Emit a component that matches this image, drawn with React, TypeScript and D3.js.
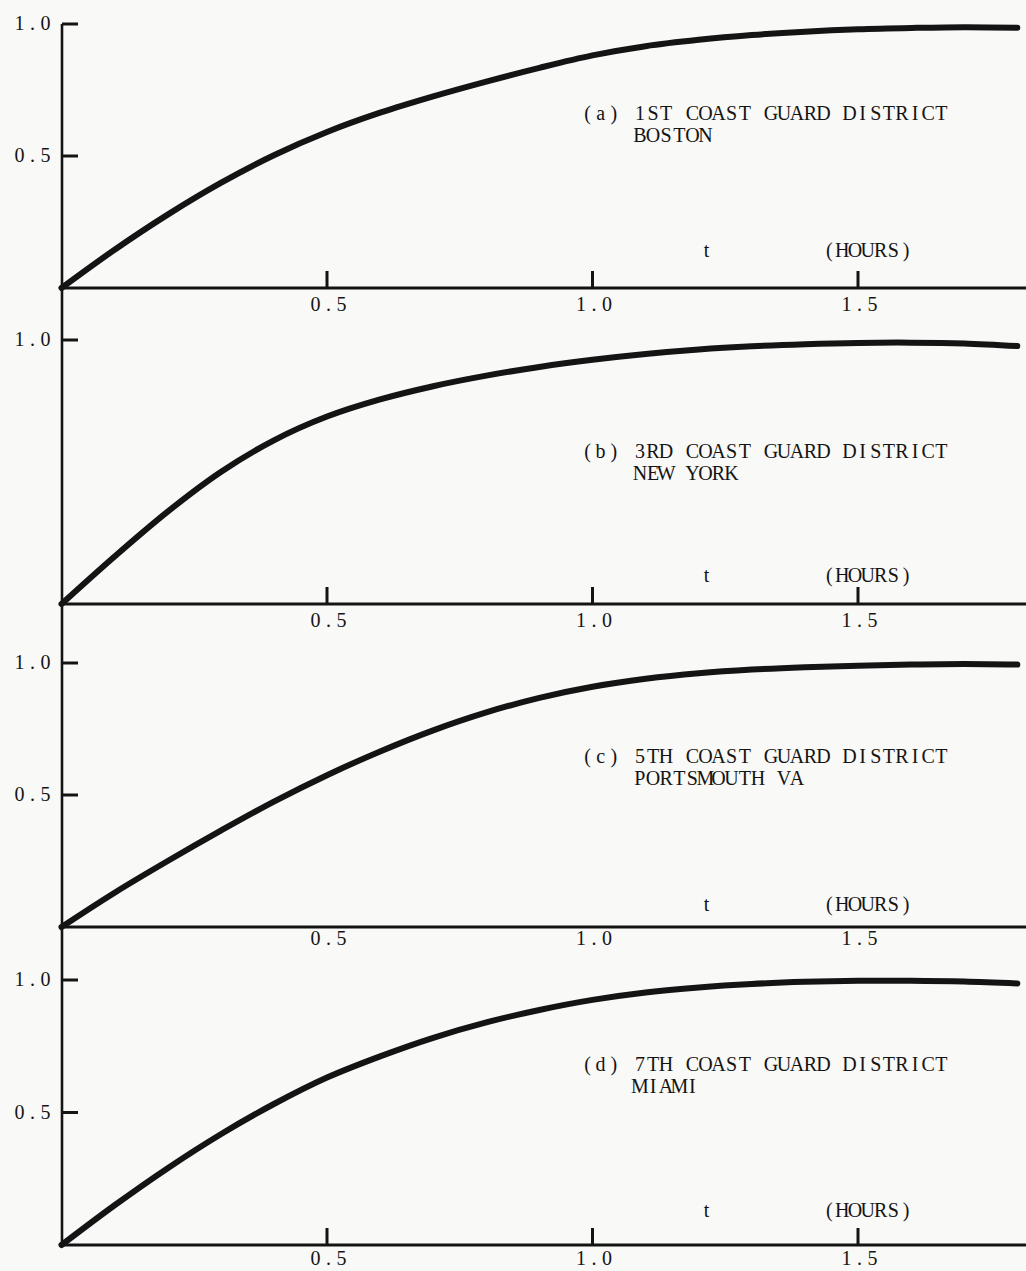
import React from "react";
import * as d3 from "d3";

// Time axis (hours) shared by every district curve
const hours = [0, 0.1, 0.2, 0.3, 0.4, 0.5, 0.6, 0.7, 0.8, 0.9, 1.0, 1.1, 1.2, 1.3, 1.4, 1.5, 1.6, 1.7, 1.8];

// Cumulative response fraction for each Coast Guard district
const bostonValues = [0, 0.145, 0.278, 0.398, 0.503, 0.591, 0.664, 0.726, 0.782, 0.834, 0.881, 0.916, 0.94, 0.958, 0.971, 0.98, 0.985, 0.988, 0.986];
const newYorkValues = [0, 0.18, 0.35, 0.5, 0.62, 0.71, 0.775, 0.825, 0.865, 0.898, 0.925, 0.947, 0.964, 0.976, 0.984, 0.989, 0.99, 0.987, 0.977];
const portsmouthValues = [0, 0.13, 0.25, 0.365, 0.475, 0.575, 0.665, 0.745, 0.813, 0.868, 0.91, 0.94, 0.961, 0.975, 0.984, 0.99, 0.994, 0.996, 0.994];
const miamiValues = [0, 0.15, 0.29, 0.418, 0.532, 0.632, 0.712, 0.782, 0.84, 0.887, 0.925, 0.953, 0.972, 0.985, 0.993, 0.997, 0.997, 0.994, 0.987];

const panelTitles = [
  ["(a) 1ST COAST GUARD DISTRICT", "BOSTON"],
  ["(b) 3RD COAST GUARD DISTRICT", "NEW YORK"],
  ["(c) 5TH COAST GUARD DISTRICT", "PORTSMOUTH VA"],
  ["(d) 7TH COAST GUARD DISTRICT", "MIAMI"],
];

const xTickValues = [0.5, 1.0, 1.5];
const xTickLabels = ["0.5", "1.0", "1.5"];
const yTickSets = [[0.5, 1.0], [1.0], [0.5, 1.0], [0.5, 1.0]];
const seriesList = [bostonValues, newYorkValues, portsmouthValues, miamiValues];

// Panel layout (pixel placement of each stacked panel)
const layout = [
  { top: 24, bottom: 288, tickMarks: true, titleY: 120, unitY: 257, xLabelDy: 23 },
  { top: 340, bottom: 604, tickMarks: true, titleY: 458, unitY: 582, xLabelDy: 23 },
  { top: 663, bottom: 927, tickMarks: false, titleY: 763, unitY: 911, xLabelDy: 18 },
  { top: 980, bottom: 1245, tickMarks: true, titleY: 1071, unitY: 1217, xLabelDy: 20 },
];

const W = 1026;
const H = 1271;
const axisX = 62;
const ink = "#141414";
const paper = "#f9f9f7";
const font = "'Liberation Serif', 'DejaVu Serif', serif";
const pitch = 13.1;

const x = d3.scaleLinear().domain([0, 1.8]).range([61.5, 1017.3]);

// Typewriter-style text: every character sits centred in a fixed-width cell
function Typed({ str, left, y, size = 20, step = pitch }: { str: string; left: number; y: number; size?: number; step?: number }) {
  const xs = Array.from(str).map((_, i) => (left + step * (i + 0.5)).toFixed(1));
  return (
    <text x={xs.join(" ")} y={y} textAnchor="middle" fontFamily={font} fontSize={size} fill={ink}>
      {str}
    </text>
  );
}

function Panel({ idx }: { idx: number }) {
  const L = layout[idx];
  const y = d3.scaleLinear().domain([0, 1]).range([L.bottom, L.top]);
  const values = seriesList[idx];
  const line = d3
    .line<number>()
    .x((_, i) => x(hours[i]))
    .y((v) => y(v))
    .curve(d3.curveCatmullRom.alpha(0.5));
  const [title1, title2] = panelTitles[idx];
  return (
    <g>
      {/* x axis */}
      <line x1={axisX} x2={W} y1={y(0)} y2={y(0)} stroke={ink} strokeWidth={2.8} />
      {xTickValues.map((t, i) => (
        <g key={t}>
          {L.tickMarks && (
            <line x1={x(t)} x2={x(t)} y1={y(0)} y2={y(0) - 17} stroke={ink} strokeWidth={3} />
          )}
          <Typed str={xTickLabels[i]} left={x(t) + 1.5 - 1.5 * 13} y={y(0) + L.xLabelDy} step={13} />
        </g>
      ))}
      {/* y ticks */}
      {yTickSets[idx].map((v) => (
        <g key={v}>
          <line x1={axisX} x2={axisX + 16} y1={y(v)} y2={y(v)} stroke={ink} strokeWidth={3} />
          <Typed str={d3.format(".1f")(v)} left={13} y={y(v) + 6} step={13} />
        </g>
      ))}
      {/* curve */}
      <path
        d={line(values) ?? ""}
        fill="none"
        stroke={ink}
        strokeWidth={6}
        strokeLinecap="round"
        strokeLinejoin="round"
      />
      {/* titles */}
      <Typed str={title1} left={581} y={L.titleY} />
      <Typed str={title2} left={581 + 4 * pitch} y={L.titleY + 22} />
      <Typed str="t" left={700} y={L.unitY} />
      <Typed str="(HOURS)" left={823} y={L.unitY} step={12.8} />
    </g>
  );
}

export default function App() {
  return (
    <svg
      width={W}
      height={H}
      viewBox={`0 0 ${W} ${H}`}
      style={{ position: "absolute", left: 0, top: 0, background: paper }}
    >
      <rect x={0} y={0} width={W} height={H} fill={paper} />
      {/* shared vertical axis */}
      <line x1={axisX} x2={axisX} y1={layout[0].top} y2={layout[3].bottom + 2} stroke={ink} strokeWidth={2.6} />
      {layout.map((_, i) => (
        <Panel key={i} idx={i} />
      ))}
    </svg>
  );
}
